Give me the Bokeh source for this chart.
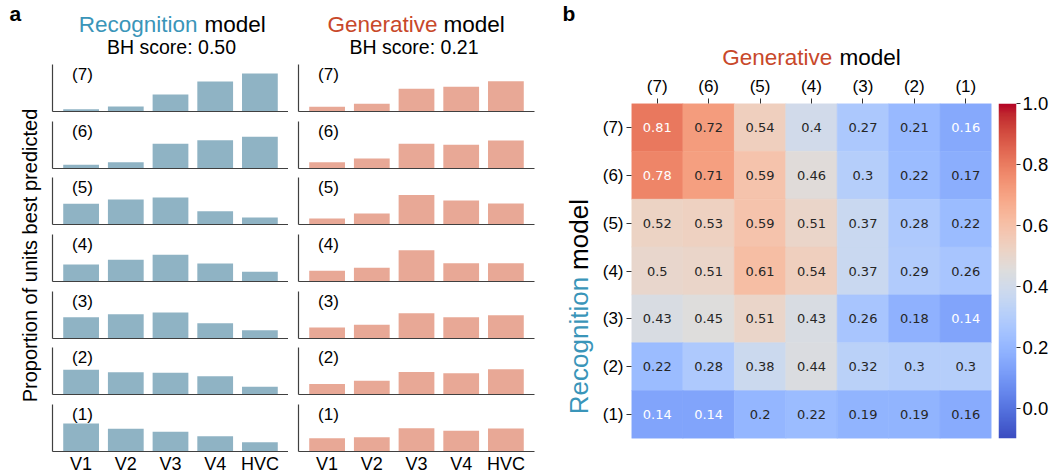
import numpy as np
from bokeh.plotting import figure
from bokeh.models import Range1d, FactorRange, FixedTicker, LinearColorMapper, ColumnDataSource, PrintfTickFormatter
from bokeh.layouts import row, column
from bokeh.core.properties import value
from bokeh.embed import file_html
from bokeh.resources import INLINE

# ---------------- data ----------------
areas = ["V1", "V2", "V3", "V4", "HVC"]
layers = ["(7)", "(6)", "(5)", "(4)", "(3)", "(2)", "(1)"]   # top -> bottom

# Recognition model: proportion of units best predicted, per layer
rec_7 = [0.024, 0.053, 0.181, 0.319, 0.404]
rec_6 = [0.039, 0.067, 0.263, 0.301, 0.337]
rec_5 = [0.220, 0.266, 0.287, 0.141, 0.074]
rec_4 = [0.181, 0.231, 0.284, 0.191, 0.103]
rec_3 = [0.227, 0.259, 0.277, 0.163, 0.088]
rec_2 = [0.263, 0.237, 0.231, 0.195, 0.082]
rec_1 = [0.298, 0.241, 0.210, 0.163, 0.099]

# Generative model
gen_7 = [0.050, 0.082, 0.241, 0.263, 0.322]
gen_6 = [0.067, 0.106, 0.263, 0.252, 0.298]
gen_5 = [0.064, 0.117, 0.315, 0.255, 0.223]
gen_4 = [0.114, 0.146, 0.333, 0.195, 0.195]
gen_3 = [0.117, 0.146, 0.269, 0.227, 0.248]
gen_2 = [0.113, 0.145, 0.240, 0.227, 0.269]
gen_1 = [0.141, 0.152, 0.248, 0.220, 0.245]

bh_scores = [0.50, 0.21]

# Heatmap: rows = recognition layer (7..1), columns = generative layer (7..1)
hm_7 = [0.81, 0.72, 0.54, 0.40, 0.27, 0.21, 0.1555]
hm_6 = [0.78, 0.71, 0.59, 0.46, 0.30, 0.22, 0.17]
hm_5 = [0.52, 0.53, 0.59, 0.51, 0.37, 0.28, 0.22]
hm_4 = [0.50, 0.51, 0.61, 0.54, 0.37, 0.29, 0.26]
hm_3 = [0.43, 0.45, 0.51, 0.43, 0.26, 0.18, 0.14]
hm_2 = [0.22, 0.28, 0.38, 0.44, 0.32, 0.30, 0.30]
hm_1 = [0.14, 0.14, 0.20, 0.22, 0.19, 0.19, 0.16]

cbar_low, cbar_high = -0.1, 1.0
cbar_ticks = [0.0, 0.2, 0.4, 0.6, 0.8, 1.0]

# ---------------- style ----------------
FONT = "Liberation Sans"
REC_C = "#3a95b9"
GEN_C = "#c8482a"
REC_BAR = "#8fb3c4"
GEN_BAR = "#e8a896"
SPINE = "#404040"

# coolwarm (Moreland) control points
cw = np.array([
    (59, 76, 192), (68, 90, 204), (77, 104, 215), (87, 117, 225), (98, 130, 234),
    (108, 142, 241), (119, 154, 247), (130, 165, 251), (141, 176, 254), (152, 185, 255),
    (163, 194, 255), (174, 201, 253), (184, 208, 249), (194, 213, 244), (204, 217, 238),
    (213, 219, 230), (221, 221, 221), (229, 216, 209), (236, 211, 197), (241, 204, 185),
    (245, 196, 173), (247, 187, 160), (247, 177, 148), (247, 166, 135), (244, 154, 123),
    (241, 141, 111), (236, 127, 99), (229, 112, 88), (222, 96, 77), (213, 80, 66),
    (203, 62, 56), (192, 40, 47), (180, 4, 38)], float)
tc = np.linspace(0, 1, len(cw))
tt = np.linspace(0, 1, 256)
palette = ["#%02x%02x%02x" % tuple(int(round(np.interp(t, tc, cw[:, k]))) for k in range(3)) for t in tt]
mapper = LinearColorMapper(palette=palette, low=cbar_low, high=cbar_high)


def canvas_fig(w, h):
    p = figure(frame_width=w, frame_height=h, x_range=Range1d(0, w), y_range=Range1d(0, h),
               min_border_left=0, min_border_right=0, min_border_top=0, min_border_bottom=0,
               x_axis_type=None, y_axis_type=None, output_backend="svg", toolbar_location=None, tools="")
    p.outline_line_color = None
    p.grid.visible = False
    p._h = h
    return p


def text_in(p, x, y_from_top, s, size, color="black", align="left", angle=0.0, bold=False):
    p.text(x=[x], y=[p._h - y_from_top], text=[s], text_font=value(FONT), text_font_size=size,
           text_color=color, text_align=align, text_baseline="middle", angle=angle,
           text_font_style="bold" if bold else "normal")


# ---------------- left panel (a) ----------------
hdr = canvas_fig(557, 60)
text_in(hdr, 9, 12.6, "a", "21px", bold=True)
text_in(hdr, 197, 24, "Recognition", "22.5px", REC_C, align="right")
text_in(hdr, 204, 24, "model", "22.5px")
text_in(hdr, 171, 46, f"BH score: {bh_scores[0]:.2f}", "19.5px", align="center")
text_in(hdr, 437, 24, "Generative", "22.5px", GEN_C, align="right")
text_in(hdr, 443, 24, "model", "22.5px")
text_in(hdr, 413.5, 46, f"BH score: {bh_scores[1]:.2f}", "19.5px", align="center")

ylab = canvas_fig(42, 414)
text_in(ylab, 29, 195, "Proportion of units best predicted", "20px", align="center",
        angle=np.pi / 2)

rec_rows = [rec_7, rec_6, rec_5, rec_4, rec_3, rec_2, rec_1]
gen_rows = [gen_7, gen_6, gen_5, gen_4, gen_3, gen_2, gen_1]
borders = [(4, 4), (6, 4), (5, 4), (6, 4), (6, 4), (5, 4), (6, 23)]
FRAME_H = 47
Y_END = 0.5


def bar_fig(vals, color, label, top, bottom, left, right, show_x):
    p = figure(frame_width=236, frame_height=FRAME_H, x_range=Range1d(-0.64, 4.64),
               y_range=Range1d(0, Y_END), min_border_top=top, min_border_bottom=bottom,
               min_border_left=left, min_border_right=right,
               output_backend="svg", toolbar_location=None, tools="")
    src = ColumnDataSource(dict(x=list(range(len(areas))), top=vals))
    p.vbar(x="x", top="top", width=0.8, source=src, fill_color=color, line_color=None)
    p.text(x=[0], y=[Y_END], text=[label], x_offset=-9, y_offset=0, text_font=value(FONT),
           text_font_size="17px", text_color="black", text_align="left", text_baseline="top")
    p.grid.visible = False
    p.outline_line_color = None
    for ax in (p.xaxis[0], p.yaxis[0]):
        ax.axis_line_color = SPINE
        ax.axis_line_width = 1.2
        ax.major_tick_out = 0
        ax.major_tick_in = 0
        ax.minor_tick_out = 0
        ax.minor_tick_in = 0
    p.yaxis.ticker = FixedTicker(ticks=[])
    p.yaxis.major_label_standoff = 0
    if show_x:
        p.xaxis.ticker = FixedTicker(ticks=list(range(len(areas))))
        p.xaxis.major_label_overrides = {i: a for i, a in enumerate(areas)}
        p.xaxis.major_label_text_font = FONT
        p.xaxis.major_label_text_font_size = "18px"
        p.xaxis.major_label_text_color = "black"
        p.xaxis.major_label_standoff = 2
    else:
        p.xaxis.ticker = FixedTicker(ticks=[])
        p.xaxis.major_label_standoff = 0
    return p


rec_figs, gen_figs = [], []
for i, (lab, rv, gv) in enumerate(zip(layers, rec_rows, gen_rows)):
    t, b = borders[i]
    last = i == len(layers) - 1
    rec_figs.append(bar_fig(rv, REC_BAR, lab, t, b, 10, 0, last))
    gen_figs.append(bar_fig(gv, GEN_BAR, lab, t, b, 10, 23, last))

left = column(hdr, row(ylab, column(*rec_figs), column(*gen_figs)))

# ---------------- right panel (b) ----------------
rhdr = canvas_fig(494, 70)
text_in(rhdr, 5, 12.6, "b", "21px", bold=True)
text_in(rhdr, 274.7, 56.5, "Generative", "22.5px", GEN_C, align="right")
text_in(rhdr, 282, 56.5, "model", "22.5px")

hm_ylab = canvas_fig(38, 404)
text_in(hm_ylab, 21.5, 242, "Recognition", "26px", REC_C, align="center", angle=np.pi / 2)
text_in(hm_ylab, 21.5, 131, "model", "26px", align="center", angle=np.pi / 2)

hm_rows = [hm_7, hm_6, hm_5, hm_4, hm_3, hm_2, hm_1]


def rel_lum(hexc):
    rgb = [int(hexc[k:k + 2], 16) / 255 for k in (1, 3, 5)]
    lin = [c / 12.92 if c <= 0.03928 else ((c + 0.055) / 1.055) ** 2.4 for c in rgb]
    return 0.2126 * lin[0] + 0.7152 * lin[1] + 0.0722 * lin[2]


def cell_hex(v):
    idx = int(np.floor((v - cbar_low) * len(palette) / (cbar_high - cbar_low)))
    return palette[min(max(idx, 0), len(palette) - 1)]


xs, ys, vs, labs, tcols = [], [], [], [], []
for i, rvals in enumerate(hm_rows):
    for j, v in enumerate(rvals):
        xs.append(layers[j])
        ys.append(layers[i])
        vs.append(v)
        labs.append(f"{v:.2g}")
        tcols.append("white" if rel_lum(cell_hex(v)) < 0.408 else "#262626")
hsrc = ColumnDataSource(dict(x=xs, y=ys, v=vs, lab=labs, tc=tcols))

hm = figure(frame_width=360, frame_height=335, x_range=FactorRange(factors=layers),
            y_range=FactorRange(factors=layers[::-1]), x_axis_location="above",
            min_border_left=36, min_border_right=7, min_border_top=33, min_border_bottom=36,
            output_backend="svg", toolbar_location=None, tools="")
hm.rect(x="x", y="y", width=1, height=1, source=hsrc,
        fill_color={"field": "v", "transform": mapper},
        line_color={"field": "v", "transform": mapper}, line_width=0.6)
hm.text(x="x", y="y", text="lab", source=hsrc, text_font=value("DejaVu Sans"),
        text_font_size="13px", text_color="tc", text_align="center", text_baseline="middle")
hm.grid.visible = False
hm.outline_line_color = None
for ax in (hm.xaxis[0], hm.yaxis[0]):
    ax.axis_line_color = None
    ax.major_tick_out = 5
    ax.major_tick_in = 0
    ax.major_tick_line_color = "#333333"
    ax.major_label_text_font = FONT
    ax.major_label_text_font_size = "17px"
    ax.major_label_text_color = "black"
    ax.major_label_standoff = 3

cb = figure(frame_width=18, frame_height=335, x_range=Range1d(0, 1),
            y_range=Range1d(cbar_low, cbar_high), y_axis_location="right", x_axis_type=None,
            min_border_left=0, min_border_right=35, min_border_top=33, min_border_bottom=36,
            output_backend="svg", toolbar_location=None, tools="")
cb.image(image=[np.linspace(cbar_low, cbar_high, 256).reshape(-1, 1)], x=0, y=cbar_low,
         dw=1, dh=cbar_high - cbar_low, color_mapper=mapper)
cb.grid.visible = False
cb.outline_line_color = None
cb.yaxis.ticker = FixedTicker(ticks=cbar_ticks)
cb.yaxis.formatter = PrintfTickFormatter(format="%.1f")
cb.yaxis.axis_line_color = None
cb.yaxis.major_tick_out = 4
cb.yaxis.major_tick_in = 0
cb.yaxis.minor_tick_out = 0
cb.yaxis.major_tick_line_color = "#333333"
cb.yaxis.major_label_text_font = FONT
cb.yaxis.major_label_text_font_size = "18.5px"
cb.yaxis.major_label_text_color = "black"
cb.yaxis.major_label_standoff = 2

right = column(rhdr, row(hm_ylab, hm, cb))

layout = row(left, right)
open("out.html", "w").write(file_html(layout, INLINE))
